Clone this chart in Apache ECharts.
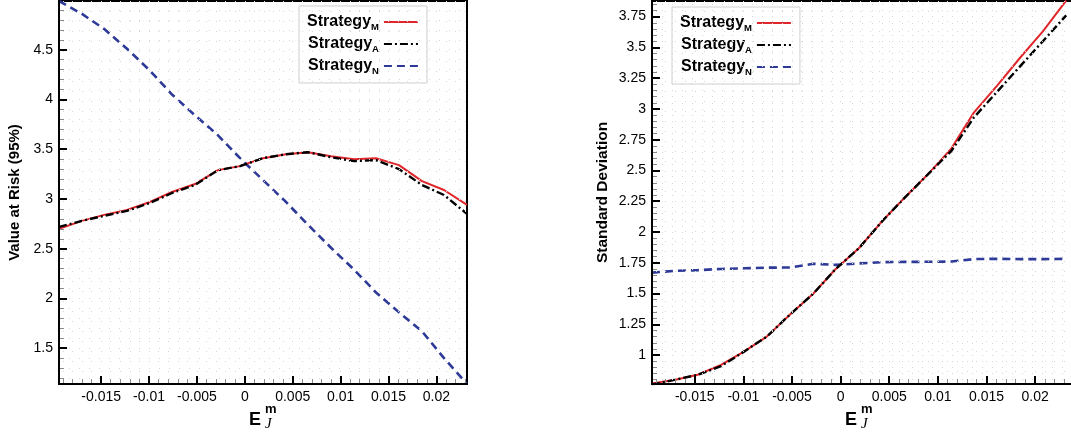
<!DOCTYPE html>
<html><head><meta charset="utf-8">
<script src="https://cdn.jsdelivr.net/npm/echarts@6/dist/echarts.min.js"></script>
<style>html,body{margin:0;padding:0;background:#fff}#c{width:1071px;height:439px}</style>
</head><body><div id="c"></div>
<script>
// ---- data ----
const xValues = [-0.0194, -0.0170, -0.0147, -0.0123, -0.0099, -0.0076, -0.0052, -0.0028, -0.0005, 0.0019, 0.0043, 0.0066, 0.0090, 0.0114, 0.0137, 0.0161, 0.0185, 0.0208, 0.0232];
const varM = [2.70, 2.78, 2.84, 2.89, 2.97, 3.07, 3.15, 3.29, 3.33, 3.41, 3.45, 3.47, 3.43, 3.40, 3.41, 3.34, 3.18, 3.09, 2.94];
const varA = [2.72, 2.78, 2.83, 2.88, 2.96, 3.06, 3.14, 3.29, 3.33, 3.41, 3.45, 3.47, 3.42, 3.38, 3.39, 3.30, 3.14, 3.04, 2.85];
const varN = [4.99, 4.86, 4.71, 4.51, 4.29, 4.05, 3.84, 3.64, 3.41, 3.19, 2.97, 2.74, 2.51, 2.29, 2.06, 1.86, 1.67, 1.40, 1.14];
const sdM = [0.77, 0.80, 0.84, 0.92, 1.03, 1.15, 1.33, 1.50, 1.70, 1.87, 2.09, 2.28, 2.47, 2.68, 2.97, 3.19, 3.42, 3.63, 3.88];
const sdA = [0.76, 0.80, 0.84, 0.91, 1.03, 1.15, 1.33, 1.50, 1.70, 1.87, 2.09, 2.28, 2.47, 2.66, 2.93, 3.14, 3.35, 3.55, 3.76];
const sdN = [1.67, 1.685, 1.69, 1.70, 1.705, 1.71, 1.712, 1.742, 1.733, 1.745, 1.755, 1.757, 1.758, 1.76, 1.78, 1.782, 1.78, 1.78, 1.782];
const seriesNames = ['Strategy_M', 'Strategy_A', 'Strategy_N'];
const xTicks = [-0.015, -0.01, -0.005, 0, 0.005, 0.01, 0.015, 0.02];
const varTicks = [1.5, 2, 2.5, 3, 3.5, 4, 4.5];
const sdTicks = [1, 1.25, 1.5, 1.75, 2, 2.25, 2.5, 2.75, 3, 3.25, 3.5, 3.75];
const yTitleLeft = 'Value at Risk (95%)';
const yTitleRight = 'Standard Deviation';

function range(a, b, step, dec) { const r = []; for (let v = a; v <= b + 1e-9; v += step) r.push(+v.toFixed(dec)); return r; }
const xMinor = range(-0.019, 0.023, 0.001, 3);
const varMinor = range(1.2, 4.9, 0.1, 1);
const sdMinor = range(0.8, 3.85, 0.05, 2);

const FONT = 'Liberation Sans';
function majorAxis(gridIndex, position, min, max, ticks, extra) {
  return Object.assign({
    type: 'value', gridIndex, position, min, max, z: 10,
    axisLine: { show: true, onZero: false, lineStyle: { color: '#000', width: 2 } },
    axisTick: { show: true, inside: true, length: 8, customValues: ticks, lineStyle: { color: '#000', width: 2 } },
    axisLabel: { show: true, customValues: ticks, color: '#000', fontSize: 14, fontFamily: FONT, margin: 6, formatter: v => String(+v.toFixed(4)) },
    splitLine: { show: false }
  }, extra || {});
}
function minorAxis(gridIndex, position, min, max, ticks) {
  return {
    type: 'value', gridIndex, position, min, max, z: 9,
    axisLine: { show: false, onZero: false },
    axisTick: { show: true, inside: true, length: 5, customValues: ticks, lineStyle: { color: '#8a8a8a', width: 1 } },
    axisLabel: { show: false },
    splitLine: { show: true, lineStyle: { color: '#d6d6d6', width: 1, type: [1, 9] } }
  };
}
const pairs = ys => xValues.map((x, i) => [x, ys[i]]);
const styles = [
  { color: '#e0262a', width: 2, type: 'solid' },
  { color: '#000000', width: 2.4, type: [8, 3, 2, 3] },
  { color: '#2e3a98', width: 2.6, type: [8, 5] }
];
function mkSeries(name, data, xi, yi, k, z) {
  return { name, type: 'line', xAxisIndex: xi, yAxisIndex: yi, data: pairs(data), symbol: 'none', showSymbol: false, silent: true,
    lineStyle: styles[k], itemStyle: { color: styles[k].color }, z };
}
function mkLegend(left, top) {
  return {
    left, top, orient: 'vertical', align: 'right', data: seriesNames,
    itemWidth: 34, itemHeight: 14, itemGap: 4, padding: [8, 8, 7, 8],
    backgroundColor: '#fff', borderColor: '#cfcfcf', borderWidth: 1,
    selectedMode: false,
    itemStyle: { opacity: 0, color: 'rgba(0,0,0,0)', borderColor: 'rgba(0,0,0,0)', borderWidth: 0 },
    formatter: n => '{b|Strategy}{s|' + n.slice(-1) + '}',
    textStyle: { rich: {
      b: { fontFamily: FONT, fontWeight: 'bold', fontSize: 16, lineHeight: 20, color: '#000' },
      s: { fontFamily: FONT, fontWeight: 'bold', fontSize: 9.5, lineHeight: 11, verticalAlign: 'bottom', color: '#000' }
    } }
  };
}
function xTitle(cx) {
  return [
    { type: 'text', left: cx - 8, top: 411, style: { text: 'E', font: 'bold 18px "Liberation Sans"', fill: '#000' } },
    { type: 'text', left: cx + 8, top: 403, style: { text: 'm', font: 'bold 13px "Liberation Sans"', fill: '#000' } },
    { type: 'text', left: cx + 8, top: 417, style: { text: 'J', font: 'italic 15px "Liberation Serif"', fill: '#000' } }
  ];
}

const chart = echarts.init(document.getElementById('c'), null, { renderer: 'canvas' });
chart.setOption({
  animation: false,
  backgroundColor: '#fff',
  grid: [
    { left: 59, top: 1, width: 408, height: 383, show: true, borderColor: '#000', borderWidth: 2, backgroundColor: 'transparent', outerBoundsMode: 'none', containLabel: false },
    { left: 652, top: 1, width: 421, height: 383, show: true, borderColor: '#000', borderWidth: 2, backgroundColor: 'transparent', outerBoundsMode: 'none', containLabel: false }
  ],
  xAxis: [
    minorAxis(0, 'bottom', -0.0194, 0.0232, xMinor),
    majorAxis(0, 'bottom', -0.0194, 0.0232, xTicks),
    minorAxis(1, 'bottom', -0.0194, 0.0239, xMinor),
    majorAxis(1, 'bottom', -0.0194, 0.0239, xTicks)
  ],
  yAxis: [
    minorAxis(0, 'left', 1.14, 4.99, varMinor),
    majorAxis(0, 'left', 1.14, 4.99, varTicks, { name: yTitleLeft, nameLocation: 'middle', nameGap: 37,
      nameTextStyle: { fontFamily: FONT, fontWeight: 'bold', fontSize: 15, color: '#000' } }),
    minorAxis(1, 'left', 0.765, 3.877, sdMinor),
    majorAxis(1, 'left', 0.765, 3.877, sdTicks, { name: yTitleRight, nameLocation: 'middle', nameGap: 41,
      nameTextStyle: { fontFamily: FONT, fontWeight: 'bold', fontSize: 15.5, color: '#000' } })
  ],
  legend: [mkLegend(299, 6), mkLegend(672, 7)],
  series: [
    mkSeries(seriesNames[2], varN, 1, 1, 2, 3),
    mkSeries(seriesNames[0], varM, 1, 1, 0, 4),
    mkSeries(seriesNames[1], varA, 1, 1, 1, 5),
    mkSeries(seriesNames[2], sdN, 3, 3, 2, 3),
    mkSeries(seriesNames[0], sdM, 3, 3, 0, 4),
    mkSeries(seriesNames[1], sdA, 3, 3, 1, 5)
  ],
  graphic: [].concat(xTitle(257), xTitle(853))
});
</script></body></html>
